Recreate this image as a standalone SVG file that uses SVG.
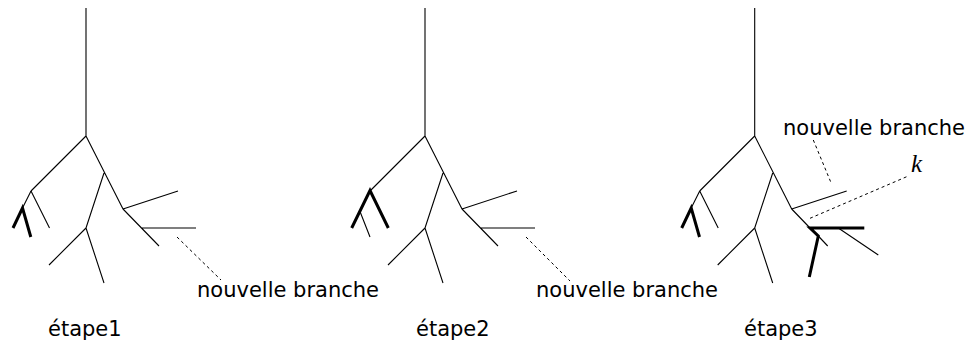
<svg xmlns="http://www.w3.org/2000/svg" width="973" height="347" viewBox="0 0 973 347">
<style>
.t{fill:none;stroke:#000;stroke-width:1.1;stroke-linecap:butt}
.b{fill:none;stroke:#000;stroke-width:3;stroke-linecap:butt;stroke-linejoin:miter}
.d{fill:none;stroke:#000;stroke-width:1;stroke-dasharray:3 3}
.lbl{font-family:"DejaVu Sans",sans-serif;font-size:21px;fill:#000}
.k{font-family:"Liberation Serif",serif;font-style:italic;font-size:25px;fill:#000}
</style>
<defs>
<path id="skel" d="M86,8 V136 M86,136 L31,191 M86,136 L123,209 M104,173 L86,228 M86,228 L49,265 M86,228 L104,283 M123,209 L178,191"/>
</defs>
<g id="tree1">
<use href="#skel" class="t"/>
<path class="t" d="M123,209 L159,246 M141,228 H196 M31,191 L49.5,228 M31,191 L22.5,208"/>
<path class="b" d="M13,228 L22.5,208 L30.8,237"/>
</g>
<g id="tree2" transform="translate(339,0)">
<use href="#skel" class="t"/>
<path class="t" d="M123,209 L159,246 M141,228 H196 M21,211.5 L31,237"/>
<path class="b" d="M12.7,228 L31,190.5 L49.3,228"/>
</g>
<g id="tree3" transform="translate(668.7,0)">
<use href="#skel" class="t"/>
<path class="t" d="M123,209 L141.3,228 M31,191 L49.5,228 M31,191 L22.5,208 M149.6,236 L159,246 M169.6,228 L209.6,255"/>
<path class="b" d="M13,228 L22.5,208 L30.8,237"/>
<path class="b" d="M195.6,228 H141.3 L149.6,236 L140.6,277"/>
</g>
<g id="connectors">
<line class="d" x1="177" y1="237" x2="221" y2="280"/>
<line class="d" x1="526" y1="237" x2="570" y2="281"/>
<line class="d" x1="813.3" y1="140" x2="831.7" y2="184.3"/>
<line class="d" x1="810" y1="218.3" x2="906.7" y2="176.7"/>
</g>
<g id="labels">
<text class="lbl" x="197" y="297">nouvelle branche</text>
<text class="lbl" x="536" y="297">nouvelle branche</text>
<text class="lbl" x="783" y="135">nouvelle branche</text>
<text class="k" x="911" y="172">k</text>
<text class="lbl" x="48" y="336">étape1</text>
<text class="lbl" x="416" y="336">étape2</text>
<text class="lbl" x="744" y="336">étape3</text>
</g>
</svg>
